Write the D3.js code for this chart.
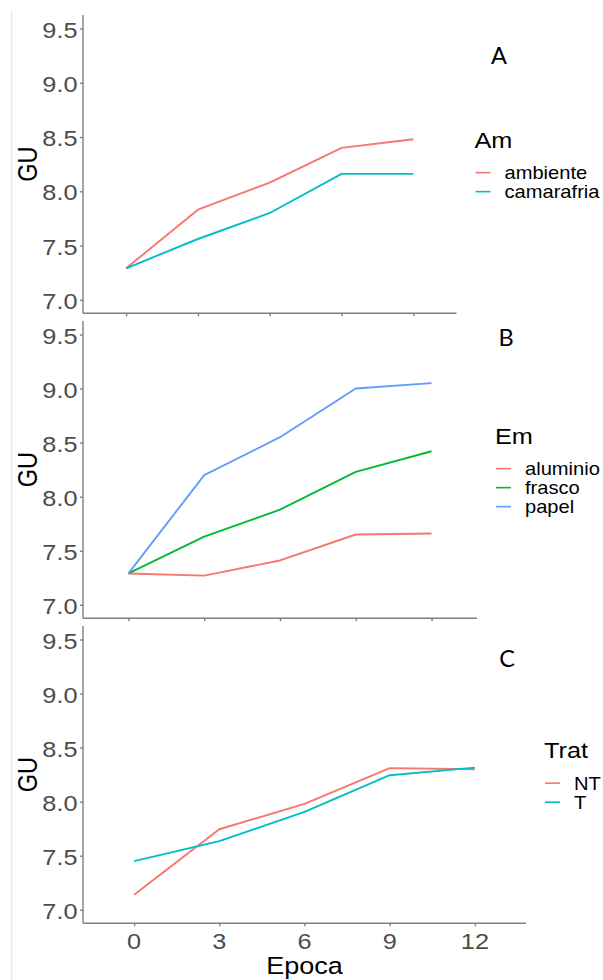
<!DOCTYPE html>
<html>
<head>
<meta charset="utf-8">
<script src="https://cdn.jsdelivr.net/npm/d3@7"></script>
<style>
  html, body { margin: 0; padding: 0; background: #fff; }
  svg { display: block; }
</style>
</head>
<body>
<svg id="chart" width="603" height="980"></svg>
<script>
// ---- data ----
const epoca = [0, 3, 6, 9, 12];
const xTicks = [0, 3, 6, 9, 12];
const yTicks = [7.0, 7.5, 8.0, 8.5, 9.0, 9.5];

// Panel A: storage environment (Am)
const amGroups = ["ambiente", "camarafria"];
const ambiente = [7.29, 7.83, 8.08, 8.40, 8.48];
const camarafria = [7.29, 7.56, 7.80, 8.16, 8.16];

// Panel B: packaging (Em)
const emGroups = ["aluminio", "frasco", "papel"];
const aluminio = [7.29, 7.27, 7.41, 7.65, 7.66];
const frasco = [7.29, 7.63, 7.88, 8.23, 8.42];
const papel = [7.29, 8.20, 8.55, 9.00, 9.05];

// Panel C: treatment (Trat)
const tratGroups = ["NT", "T"];
const NT = [7.14, 7.745, 7.98, 8.31, 8.30];
const T = [7.45, 7.635, 7.905, 8.245, 8.315];

// ---- styling ----
const SX = 1.15;                       // horizontal text stretch
const FONT = "'Liberation Sans', Arial, sans-serif";
const TAG_FONT = "Lato, 'Open Sans', sans-serif";
const AXIS = "#7f7f7f";
const hue2 = ["#F8766D", "#00BFC4"];
const hue3 = ["#F8766D", "#00BA38", "#619CFF"];

const svg = d3.select("#chart");
svg.append("rect").attr("width", 603).attr("height", 980).attr("fill", "#fff");

// faint frame line on the left edge
svg.append("line")
  .attr("x1", 11.7).attr("x2", 11.7).attr("y1", 10).attr("y2", 980)
  .attr("stroke", "#e3e3e3").attr("stroke-width", 1);

// text helper: stretched horizontally around its anchor point
function label(parent, x, y, txt, o = {}) {
  const g = parent.append("g")
    .attr("transform", `translate(${x},${y}) scale(${SX},1)` + (o.rotate ? ` rotate(${o.rotate})` : ""));
  g.append("text")
    .attr("x", 0).attr("y", 0)
    .attr("text-anchor", o.anchor || "start")
    .attr("font-family", o.family || FONT)
    .attr("font-size", o.size || 22)
    .attr("fill", o.fill || "#000")
    .text(txt);
  return g;
}

const panels = [
  { tag: "A", tagX: 499, tagY: 64, title: "Am", groups: amGroups,
    series: [ambiente, camarafria], colors: hue2,
    top: 15, bottom: 313.3, right: 456.5, xLabels: false },
  { tag: "B", tagX: 506, tagY: 346, title: "Em", groups: emGroups,
    series: [aluminio, frasco, papel], colors: hue3,
    top: 321, bottom: 618.3, right: 477, xLabels: false },
  { tag: "C", tagX: 507, tagY: 667, title: "Trat", groups: tratGroups,
    series: [NT, T], colors: hue2,
    top: 626, bottom: 923.3, right: 526, xLabels: true }
];

const LEFT = 83;

panels.forEach(p => {
  const x = d3.scaleLinear().domain([-1.8, 13.8]).range([LEFT, p.right]);
  const y = d3.scaleLinear().domain([6.875, 9.625]).range([p.bottom, p.top]);
  const g = svg.append("g");

  // y axis
  const yAxis = g.append("g").attr("transform", `translate(${LEFT},0)`)
    .call(d3.axisLeft(y).tickValues(yTicks).tickSize(3).tickFormat(""));
  yAxis.select(".domain").attr("d", `M0,${p.bottom}V${p.top}`);
  yAxis.selectAll("path, line").attr("stroke", AXIS).attr("stroke-width", 1.4);

  yTicks.forEach(v => {
    label(g, 77.5, y(v) + 9, d3.format(".1f")(v), { anchor: "end", size: 22, fill: "#4d4d4d" });
  });

  // x axis
  const xAxis = g.append("g").attr("transform", `translate(0,${p.bottom})`)
    .call(d3.axisBottom(x).tickValues(xTicks).tickSize(3).tickFormat(""));
  xAxis.select(".domain").attr("d", `M${LEFT},0H${p.right}`);
  xAxis.selectAll("path, line").attr("stroke", AXIS).attr("stroke-width", 1.4);

  if (p.xLabels) {
    xTicks.forEach(v => {
      label(g, x(v), p.bottom + 26, String(v), { anchor: "middle", size: 22, fill: "#4d4d4d" });
    });
    label(g, (LEFT + p.right) / 2, 974, "Epoca", { anchor: "middle", size: 23.5 });
  }

  // y title
  const midY = (p.top + p.bottom) / 2;
  label(g, 36.5, midY, "GU", { anchor: "middle", size: 23.5, rotate: -90 });

  // lines
  const line = d3.line().x((d, i) => x(epoca[i])).y(d => y(d));
  p.series.forEach((s, k) => {
    g.append("path").datum(s)
      .attr("d", line)
      .attr("fill", "none")
      .attr("stroke", p.colors[k])
      .attr("stroke-width", 1.9)
      .attr("stroke-linejoin", "round");
  });

  // legend
  const keyX = p.right + 19;
  const n = p.groups.length;
  const firstKey = midY + 18 - (n - 1) * 19 / 2;
  label(g, keyX - 1, firstKey - 25, p.title, { size: 22 });
  p.groups.forEach((name, k) => {
    const ky = firstKey + k * 19;
    g.append("line")
      .attr("x1", keyX).attr("x2", keyX + 15)
      .attr("y1", ky).attr("y2", ky)
      .attr("stroke", p.colors[k]).attr("stroke-width", 1.6);
    label(g, keyX + 29, ky + 6.5, name, { size: 17.5 });
  });

  // panel tag
  svg.append("text")
    .attr("x", p.tagX).attr("y", p.tagY)
    .attr("text-anchor", "middle")
    .attr("font-family", TAG_FONT)
    .attr("font-size", 23.5)
    .attr("fill", "#000")
    .text(p.tag);
});
</script>
</body>
</html>
